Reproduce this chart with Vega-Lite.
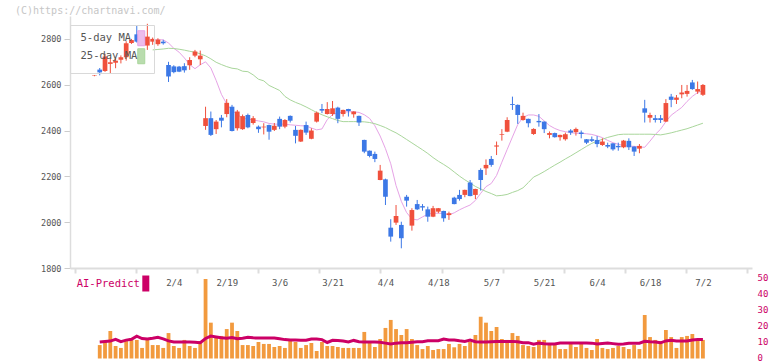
{
"$schema":"https://vega.github.io/schema/vega-lite/v6.json",
"width":682,"height":252,
"autosize":{"type":"none"},
"padding":{"left":70,"top":16,"right":20,"bottom":93},
"background":"white",
"config":{"view":{"stroke":null},"font":"DejaVu Sans Mono",
 "axisLeft":{"labelColor":"#555","labelFontSize":8.5,"tickSize":6,"tickColor":"#ccc","domainColor":"#ddd","domainWidth":1.5,"labelPadding":3,"grid":false,"title":null,"format":"d"},
 "axisRight":{"labelColor":"#cc0066","labelFontSize":9,"domain":false,"ticks":false,"labelPadding":5,"labelOffset":-1.5,"grid":false,"title":null}
},
"title":{"text":"(C)https://chartnavi.com/","anchor":"start","frame":"group","dx":-55,"offset":0,"font":"DejaVu Sans Mono","fontSize":10,"fontWeight":"normal","color":"#c6c6c6"},
"data":{"values":[
{"i":-1,"d":"1/14","o":2639,"h":2642,"l":2637,"c":2641,"v":null,"ai":null,"m5":null,"m25":null},
{"i":0,"d":"1/15","o":2666,"h":2673,"l":2641,"c":2654,"v":8.4,"ai":10.3,"m5":null,"m25":null},
{"i":1,"d":"1/16","o":2660,"h":2735,"l":2656,"c":2723,"v":10.9,"ai":10.6,"m5":null,"m25":null},
{"i":2,"d":"1/17","o":2691,"h":2716,"l":2647,"c":2698,"v":17.2,"ai":10.9,"m5":null,"m25":null},
{"i":3,"d":"1/20","o":2696,"h":2716,"l":2672,"c":2705,"v":7.8,"ai":12,"m5":null,"m25":null},
{"i":4,"d":"1/21","o":2709,"h":2728,"l":2693,"c":2720,"v":6.6,"ai":10.5,"m5":null,"m25":null},
{"i":5,"d":"1/22","o":2720,"h":2790,"l":2705,"c":2781,"v":10.9,"ai":11.5,"m5":null,"m25":null},
{"i":6,"d":"1/23","o":2782,"h":2800,"l":2778,"c":2795,"v":11.6,"ai":12,"m5":null,"m25":null},
{"i":7,"d":"1/24","o":2820,"h":2860,"l":2784,"c":2788,"v":11.6,"ai":14,"m5":null,"m25":null},
{"i":8,"d":"1/27","o":2815,"h":2830,"l":2785,"c":2790,"v":6.6,"ai":12.5,"m5":null,"m25":null},
{"i":9,"d":"1/28","o":2771,"h":2866,"l":2752,"c":2810,"v":11.6,"ai":12.2,"m5":null,"m25":null},
{"i":10,"d":"1/29","o":2788,"h":2806,"l":2774,"c":2800,"v":8.4,"ai":12.6,"m5":2796,"m25":2752},
{"i":11,"d":"1/30","o":2777,"h":2803,"l":2770,"c":2797,"v":8.4,"ai":13.2,"m5":2796,"m25":2754},
{"i":12,"d":"1/31","o":2788,"h":2796,"l":2775,"c":2781,"v":6.6,"ai":12.3,"m5":2796,"m25":2756},
{"i":13,"d":"2/3","o":2686,"h":2700,"l":2612,"c":2636,"v":15.9,"ai":11,"m5":2782,"m25":2759},
{"i":14,"d":"2/4","o":2680,"h":2685,"l":2650,"c":2655,"v":7.8,"ai":10.3,"m5":2759,"m25":2758},
{"i":15,"d":"2/5","o":2679,"h":2682,"l":2655,"c":2657,"v":6.6,"ai":10.3,"m5":2742,"m25":2755},
{"i":16,"d":"2/6","o":2681,"h":2694,"l":2653,"c":2663,"v":11.6,"ai":10.3,"m5":2717,"m25":2751},
{"i":17,"d":"2/7","o":2685,"h":2720,"l":2665,"c":2708,"v":7.8,"ai":10.3,"m5":2688,"m25":2746},
{"i":18,"d":"2/10","o":2727,"h":2752,"l":2720,"c":2745,"v":6.6,"ai":10.2,"m5":2670,"m25":2742},
{"i":19,"d":"2/12","o":2711,"h":2749,"l":2686,"c":2727,"v":10.9,"ai":9.9,"m5":2687,"m25":2735},
{"i":20,"d":"2/13","o":2420,"h":2504,"l":2403,"c":2454,"v":49.7,"ai":12.5,"m5":2700,"m25":2726},
{"i":21,"d":"2/14","o":2454,"h":2483,"l":2376,"c":2381,"v":22.4,"ai":14,"m5":2673,"m25":2713},
{"i":22,"d":"2/17","o":2406,"h":2446,"l":2385,"c":2439,"v":14.1,"ai":13.5,"m5":2619,"m25":2698},
{"i":23,"d":"2/18","o":2456,"h":2468,"l":2414,"c":2443,"v":14.1,"ai":13,"m5":2558,"m25":2688},
{"i":24,"d":"2/19","o":2472,"h":2537,"l":2458,"c":2521,"v":18.4,"ai":12.6,"m5":2516,"m25":2679},
{"i":25,"d":"2/20","o":2504,"h":2512,"l":2396,"c":2398,"v":22.4,"ai":13.1,"m5":2488,"m25":2672},
{"i":26,"d":"2/21","o":2410,"h":2490,"l":2400,"c":2483,"v":17.2,"ai":12.4,"m5":2470,"m25":2669},
{"i":27,"d":"2/25","o":2406,"h":2470,"l":2403,"c":2463,"v":8.4,"ai":12.6,"m5":2454,"m25":2659},
{"i":28,"d":"2/26","o":2468,"h":2474,"l":2410,"c":2414,"v":8.4,"ai":13.2,"m5":2450,"m25":2657},
{"i":29,"d":"2/27","o":2433,"h":2463,"l":2426,"c":2454,"v":7.8,"ai":12.9,"m5":2446,"m25":2643},
{"i":30,"d":"2/28","o":2417,"h":2422,"l":2390,"c":2406,"v":10.3,"ai":12.8,"m5":2442,"m25":2624},
{"i":31,"d":"3/3","o":2414,"h":2432,"l":2383,"c":2417,"v":9.1,"ai":12.8,"m5":2438,"m25":2617},
{"i":32,"d":"3/4","o":2424,"h":2426,"l":2360,"c":2395,"v":9.1,"ai":12.8,"m5":2431,"m25":2597},
{"i":33,"d":"3/5","o":2403,"h":2433,"l":2398,"c":2421,"v":7.2,"ai":12.8,"m5":2428,"m25":2586},
{"i":34,"d":"3/6","o":2451,"h":2461,"l":2406,"c":2417,"v":7.8,"ai":12.4,"m5":2428,"m25":2575},
{"i":35,"d":"3/7","o":2417,"h":2450,"l":2410,"c":2446,"v":6.6,"ai":11.8,"m5":2428,"m25":2549},
{"i":36,"d":"3/10","o":2464,"h":2466,"l":2435,"c":2443,"v":12.2,"ai":11.6,"m5":2425,"m25":2534},
{"i":37,"d":"3/11","o":2403,"h":2420,"l":2344,"c":2377,"v":10.3,"ai":11.5,"m5":2423,"m25":2523},
{"i":38,"d":"3/12","o":2352,"h":2405,"l":2350,"c":2403,"v":6.6,"ai":11.4,"m5":2421,"m25":2514},
{"i":39,"d":"3/13","o":2424,"h":2439,"l":2381,"c":2391,"v":8.4,"ai":11.4,"m5":2420,"m25":2503},
{"i":40,"d":"3/14","o":2364,"h":2410,"l":2362,"c":2400,"v":9.7,"ai":12.2,"m5":2411,"m25":2491},
{"i":41,"d":"3/17","o":2439,"h":2483,"l":2435,"c":2478,"v":4.7,"ai":12.2,"m5":2403,"m25":2479},
{"i":42,"d":"3/18","o":2494,"h":2516,"l":2476,"c":2487,"v":10.3,"ai":11.8,"m5":2407,"m25":2469},
{"i":43,"d":"3/19","o":2472,"h":2524,"l":2470,"c":2494,"v":7.8,"ai":10,"m5":2448,"m25":2460},
{"i":44,"d":"3/21","o":2472,"h":2529,"l":2464,"c":2497,"v":7.8,"ai":11.4,"m5":2470,"m25":2452},
{"i":45,"d":"3/24","o":2500,"h":2504,"l":2432,"c":2451,"v":7.2,"ai":11.3,"m5":2478,"m25":2444},
{"i":46,"d":"3/25","o":2472,"h":2491,"l":2461,"c":2490,"v":6.6,"ai":10.9,"m5":2480,"m25":2439},
{"i":47,"d":"3/26","o":2494,"h":2495,"l":2461,"c":2485,"v":6.6,"ai":10.4,"m5":2482,"m25":2439},
{"i":48,"d":"3/27","o":2471,"h":2484,"l":2456,"c":2483,"v":6.6,"ai":11.3,"m5":2482,"m25":2439},
{"i":49,"d":"3/28","o":2464,"h":2465,"l":2420,"c":2435,"v":6.6,"ai":10.5,"m5":2479,"m25":2439},
{"i":50,"d":"3/31","o":2359,"h":2360,"l":2301,"c":2308,"v":16.6,"ai":10.3,"m5":2469,"m25":2438},
{"i":51,"d":"4/1","o":2312,"h":2313,"l":2283,"c":2289,"v":10.3,"ai":10.3,"m5":2453,"m25":2435},
{"i":52,"d":"4/2","o":2298,"h":2308,"l":2262,"c":2276,"v":7.2,"ai":10.3,"m5":2421,"m25":2430},
{"i":53,"d":"4/3","o":2184,"h":2250,"l":2183,"c":2225,"v":12.2,"ai":10.2,"m5":2376,"m25":2422},
{"i":54,"d":"4/4","o":2187,"h":2190,"l":2075,"c":2111,"v":19.1,"ai":9.6,"m5":2321,"m25":2413},
{"i":55,"d":"4/7","o":1976,"h":2013,"l":1915,"c":1937,"v":24.1,"ai":9,"m5":2255,"m25":2401},
{"i":56,"d":"4/8","o":1998,"h":2075,"l":1988,"c":2027,"v":18.4,"ai":9.6,"m5":2160,"m25":2390},
{"i":57,"d":"4/9","o":1988,"h":2002,"l":1886,"c":1930,"v":14.7,"ai":9.9,"m5":2091,"m25":2376},
{"i":58,"d":"4/10","o":2111,"h":2119,"l":2068,"c":2094,"v":18.4,"ai":9.9,"m5":2042,"m25":2361},
{"i":59,"d":"4/11","o":1985,"h":2061,"l":1963,"c":2053,"v":12.2,"ai":10.2,"m5":2014,"m25":2346},
{"i":60,"d":"4/14","o":2079,"h":2097,"l":2053,"c":2056,"v":8.4,"ai":10.5,"m5":2010,"m25":2331},
{"i":61,"d":"4/15","o":2070,"h":2079,"l":2050,"c":2064,"v":5.9,"ai":10.5,"m5":2023,"m25":2316},
{"i":62,"d":"4/16","o":2056,"h":2068,"l":2002,"c":2024,"v":7.8,"ai":11.1,"m5":2035,"m25":2300},
{"i":63,"d":"4/17","o":2024,"h":2071,"l":2022,"c":2061,"v":5.3,"ai":11.1,"m5":2039,"m25":2282},
{"i":64,"d":"4/18","o":2046,"h":2062,"l":2039,"c":2061,"v":5.9,"ai":11.1,"m5":2039,"m25":2266},
{"i":65,"d":"4/21","o":2049,"h":2050,"l":2002,"c":2017,"v":5.9,"ai":12.1,"m5":2038,"m25":2252},
{"i":66,"d":"4/22","o":2031,"h":2046,"l":2010,"c":2039,"v":9.1,"ai":11.6,"m5":2032,"m25":2237},
{"i":67,"d":"4/23","o":2107,"h":2111,"l":2078,"c":2079,"v":7,"ai":11.6,"m5":2041,"m25":2219},
{"i":68,"d":"4/24","o":2119,"h":2141,"l":2094,"c":2101,"v":9.1,"ai":11.1,"m5":2054,"m25":2201},
{"i":69,"d":"4/25","o":2119,"h":2142,"l":2109,"c":2141,"v":7.8,"ai":10.7,"m5":2065,"m25":2185},
{"i":70,"d":"4/28","o":2173,"h":2184,"l":2113,"c":2114,"v":10.5,"ai":11.5,"m5":2075,"m25":2171},
{"i":71,"d":"4/30","o":2119,"h":2146,"l":2101,"c":2145,"v":14.7,"ai":10.5,"m5":2095,"m25":2156},
{"i":72,"d":"5/1","o":2228,"h":2235,"l":2138,"c":2184,"v":26.1,"ai":10.3,"m5":2126,"m25":2145},
{"i":73,"d":"5/2","o":2235,"h":2274,"l":2206,"c":2250,"v":22.4,"ai":10.3,"m5":2155,"m25":2134},
{"i":74,"d":"5/7","o":2276,"h":2289,"l":2242,"c":2250,"v":17.2,"ai":10.5,"m5":2169,"m25":2125},
{"i":75,"d":"5/8","o":2330,"h":2352,"l":2293,"c":2335,"v":19.7,"ai":10.7,"m5":2204,"m25":2115},
{"i":76,"d":"5/9","o":2381,"h":2406,"l":2356,"c":2384,"v":12.2,"ai":10.7,"m5":2262,"m25":2117},
{"i":77,"d":"5/12","o":2395,"h":2458,"l":2393,"c":2446,"v":11.6,"ai":10.7,"m5":2317,"m25":2121},
{"i":78,"d":"5/13","o":2516,"h":2548,"l":2490,"c":2512,"v":15.9,"ai":10.7,"m5":2372,"m25":2130},
{"i":79,"d":"5/14","o":2512,"h":2514,"l":2429,"c":2468,"v":14.1,"ai":10.4,"m5":2426,"m25":2138},
{"i":80,"d":"5/15","o":2446,"h":2478,"l":2443,"c":2464,"v":8.4,"ai":9.9,"m5":2457,"m25":2150},
{"i":81,"d":"5/16","o":2451,"h":2452,"l":2414,"c":2432,"v":7.8,"ai":9.9,"m5":2468,"m25":2173},
{"i":82,"d":"5/19","o":2385,"h":2410,"l":2381,"c":2407,"v":7.2,"ai":8.9,"m5":2468,"m25":2197},
{"i":83,"d":"5/20","o":2442,"h":2472,"l":2417,"c":2436,"v":11.6,"ai":9.6,"m5":2462,"m25":2208},
{"i":84,"d":"5/21","o":2439,"h":2440,"l":2389,"c":2406,"v":11.6,"ai":9.2,"m5":2442,"m25":2221},
{"i":85,"d":"5/22","o":2381,"h":2396,"l":2366,"c":2389,"v":9.1,"ai":9,"m5":2422,"m25":2235},
{"i":86,"d":"5/23","o":2389,"h":2391,"l":2369,"c":2371,"v":8.4,"ai":9.1,"m5":2409,"m25":2249},
{"i":87,"d":"5/26","o":2371,"h":2382,"l":2356,"c":2381,"v":5.9,"ai":9.7,"m5":2400,"m25":2262},
{"i":88,"d":"5/27","o":2362,"h":2391,"l":2356,"c":2384,"v":5.9,"ai":9.7,"m5":2395,"m25":2276},
{"i":89,"d":"5/28","o":2400,"h":2406,"l":2381,"c":2391,"v":9.1,"ai":9.7,"m5":2391,"m25":2289},
{"i":90,"d":"5/29","o":2393,"h":2413,"l":2378,"c":2407,"v":7.2,"ai":9.7,"m5":2388,"m25":2303},
{"i":91,"d":"5/30","o":2391,"h":2400,"l":2366,"c":2385,"v":9.1,"ai":9.7,"m5":2388,"m25":2317},
{"i":92,"d":"6/2","o":2362,"h":2363,"l":2341,"c":2347,"v":6.6,"ai":9.7,"m5":2386,"m25":2331},
{"i":93,"d":"6/3","o":2362,"h":2374,"l":2350,"c":2355,"v":5.3,"ai":9.6,"m5":2383,"m25":2344},
{"i":94,"d":"6/4","o":2359,"h":2376,"l":2327,"c":2341,"v":12.2,"ai":9.1,"m5":2377,"m25":2354},
{"i":95,"d":"6/5","o":2337,"h":2366,"l":2333,"c":2352,"v":6.6,"ai":9.4,"m5":2369,"m25":2362},
{"i":96,"d":"6/6","o":2337,"h":2347,"l":2323,"c":2330,"v":5.9,"ai":9.7,"m5":2357,"m25":2370},
{"i":97,"d":"6/9","o":2344,"h":2345,"l":2312,"c":2318,"v":6.6,"ai":9.3,"m5":2347,"m25":2376},
{"i":98,"d":"6/10","o":2333,"h":2347,"l":2312,"c":2327,"v":7.8,"ai":8.9,"m5":2340,"m25":2382},
{"i":99,"d":"6/11","o":2327,"h":2359,"l":2323,"c":2356,"v":7.2,"ai":9,"m5":2335,"m25":2384},
{"i":100,"d":"6/12","o":2355,"h":2366,"l":2315,"c":2327,"v":5.9,"ai":9.5,"m5":2332,"m25":2384},
{"i":101,"d":"6/13","o":2330,"h":2331,"l":2289,"c":2308,"v":8.4,"ai":9.5,"m5":2331,"m25":2384},
{"i":102,"d":"6/16","o":2321,"h":2341,"l":2301,"c":2333,"v":5.9,"ai":9.6,"m5":2328,"m25":2384},
{"i":103,"d":"6/17","o":2497,"h":2534,"l":2435,"c":2478,"v":27.2,"ai":10.7,"m5":2327,"m25":2384},
{"i":104,"d":"6/18","o":2456,"h":2478,"l":2435,"c":2468,"v":13.4,"ai":10.4,"m5":2354,"m25":2384},
{"i":105,"d":"6/19","o":2454,"h":2468,"l":2435,"c":2446,"v":11.6,"ai":10.3,"m5":2383,"m25":2383},
{"i":106,"d":"6/20","o":2454,"h":2468,"l":2433,"c":2446,"v":10.9,"ai":9.8,"m5":2406,"m25":2381},
{"i":107,"d":"6/23","o":2439,"h":2537,"l":2437,"c":2520,"v":17.8,"ai":11,"m5":2439,"m25":2385},
{"i":108,"d":"6/24","o":2548,"h":2560,"l":2502,"c":2534,"v":13.4,"ai":11.4,"m5":2467,"m25":2390},
{"i":109,"d":"6/25","o":2534,"h":2555,"l":2516,"c":2544,"v":6.6,"ai":11,"m5":2484,"m25":2396},
{"i":110,"d":"6/26","o":2558,"h":2599,"l":2541,"c":2566,"v":13.4,"ai":10.9,"m5":2501,"m25":2402},
{"i":111,"d":"6/27","o":2560,"h":2599,"l":2548,"c":2573,"v":14.1,"ai":11,"m5":2527,"m25":2408},
{"i":112,"d":"6/30","o":2610,"h":2621,"l":2578,"c":2581,"v":15.3,"ai":11.6,"m5":2549,"m25":2416},
{"i":113,"d":"7/1","o":2570,"h":2614,"l":2560,"c":2581,"v":11.6,"ai":11.8,"m5":2566,"m25":2424},
{"i":114,"d":"7/2","o":2556,"h":2603,"l":2551,"c":2599,"v":11.6,"ai":11.8,"m5":2574,"m25":2432}
]},
"layer":[
{
 "encoding":{"x":{"field":"i","type":"quantitative","scale":{"domain":[-4.674,122.33],"nice":false,"zero":false},
   "axis":{"orient":"bottom","values":[-4.674,6.872,18.418,29.964,41.51,53.056,64.602,76.148,87.694,99.24,110.786,122.33],"labels":false,"tickSize":5,"tickColor":"#ddd","tickWidth":2,"domainColor":"#ddd","domainWidth":2,"grid":false,"title":null}}},
 "layer":[
  {"transform":[{"fold":["m5","m25"],"as":["ma","val"]}],
   "mark":{"type":"line","strokeWidth":1,"interpolate":"linear"},
   "encoding":{
    "y":{"field":"val","type":"quantitative","scale":{"domain":[1800,2900],"nice":false,"zero":false},"axis":{"values":[1800,2000,2200,2400,2600,2800],"title":null}},
    "color":{"field":"ma","type":"nominal","scale":{"domain":["m5","m25"],"range":["#e6a3e6","#a9d69b"]},
      "legend":{"orient":"none","legendX":0,"legendY":9,"title":null,"labelExpr":"datum.label == 'm5' ? '5-day MA' : '25-day MA'","labelFont":"DejaVu Sans Mono","labelFontSize":10.5,"labelColor":"#555","symbolType":"M-1,-2.14H1V2.14H-1Z","symbolSize":49,"symbolStrokeWidth":1,"symbolOffset":58,"labelOffset":-66,"rowPadding":1,"padding":8,"fillColor":"rgba(255,255,255,0)","strokeColor":"#d9d9d9",
        "encode":{"symbols":{"update":{"fill":{"signal":"datum.value === 'm5' ? '#ecbcec' : '#b9dcae'"},"stroke":{"value":"#777777"},"strokeJoin":{"value":"bevel"},"fillOpacity":{"value":1}}}}}}
   }},
  {"mark":{"type":"rule","strokeWidth":1},
   "encoding":{
    "y":{"field":"l","type":"quantitative","scale":{"domain":[1800,2900],"nice":false,"zero":false},"axis":{"values":[1800,2000,2200,2400,2600,2800],"title":null}},
    "y2":{"field":"h"},
    "color":{"condition":{"test":"datum.c >= datum.o","value":"#f0503c"},"value":"#3c78e6"}
   }},
  {"mark":{"type":"bar","size":4.7},
   "encoding":{
    "y":{"field":"o","type":"quantitative","scale":{"domain":[1800,2900],"nice":false,"zero":false},"axis":{"values":[1800,2000,2200,2400,2600,2800],"title":null}},
    "y2":{"field":"c"},
    "color":{"condition":{"test":"datum.c >= datum.o","value":"#f0503c"},"value":"#3c78e6"}
   }},
  {"data":{"values":[{"code":"6268"}]},
   "mark":{"type":"text","align":"right","baseline":"middle","font":"DejaVu Sans Mono","fontSize":9.5,"color":"#c6c6c6"},
   "encoding":{
    "x":{"datum":123.8,"type":"quantitative"},
    "y":{"datum":2917,"type":"quantitative","scale":{"domain":[1800,2900],"nice":false,"zero":false},"axis":{"values":[1800,2000,2200,2400,2600,2800],"title":null}},
    "text":{"field":"code"}
   }}
 ]
},
{
 "encoding":{"x":{"field":"i","type":"quantitative","scale":{"domain":[-4.674,122.33],"nice":false,"zero":false},
   "axis":{"orient":"bottom","values":[14,24,34,44,54,64,74,84,94,104,114],"labelExpr":"datum.value==14?'2/4':datum.value==24?'2/19':datum.value==34?'3/6':datum.value==44?'3/21':datum.value==54?'4/4':datum.value==64?'4/18':datum.value==74?'5/7':datum.value==84?'5/21':datum.value==94?'6/4':datum.value==104?'6/18':'7/2'","domain":false,"ticks":false,"labelPadding":10,"labelColor":"#555","labelFontSize":9,"labelFont":"DejaVu Sans Mono","grid":false,"title":null}}},
 "layer":[
  {"mark":{"type":"bar","size":3.8,"color":"#f29a3e"},
   "encoding":{
    "y":{"field":"v","type":"quantitative","scale":{"domain":[0,50],"range":[342.5,262.5],"nice":false,"zero":true},"axis":{"orient":"right","values":[0,10,20,30,40,50],"title":null}}
   }},
  {"mark":{"type":"line","strokeWidth":3},
   "encoding":{
    "y":{"field":"ai","type":"quantitative","scale":{"domain":[0,50],"range":[342.5,262.5],"nice":false,"zero":true},"axis":{"orient":"right","values":[0,10,20,30,40,50],"title":null}},
    "color":{"datum":"AI-Predict","scale":{"range":["#cc0066"]},
      "legend":{"orient":"none","legendX":6,"legendY":261,"title":null,"labelFont":"DejaVu Sans Mono","labelFontSize":10.5,"labelColor":"#cc0066","symbolType":"M0,-3V3","symbolSize":28.4,"symbolStrokeWidth":7,"symbolOffset":63.3,"labelOffset":-75.6,"padding":0}}
   }}
 ]
}
],
"resolve":{"scale":{"y":"independent","color":"independent"},"axis":{"x":"independent","y":"independent"},"legend":{"color":"independent"}}
}
